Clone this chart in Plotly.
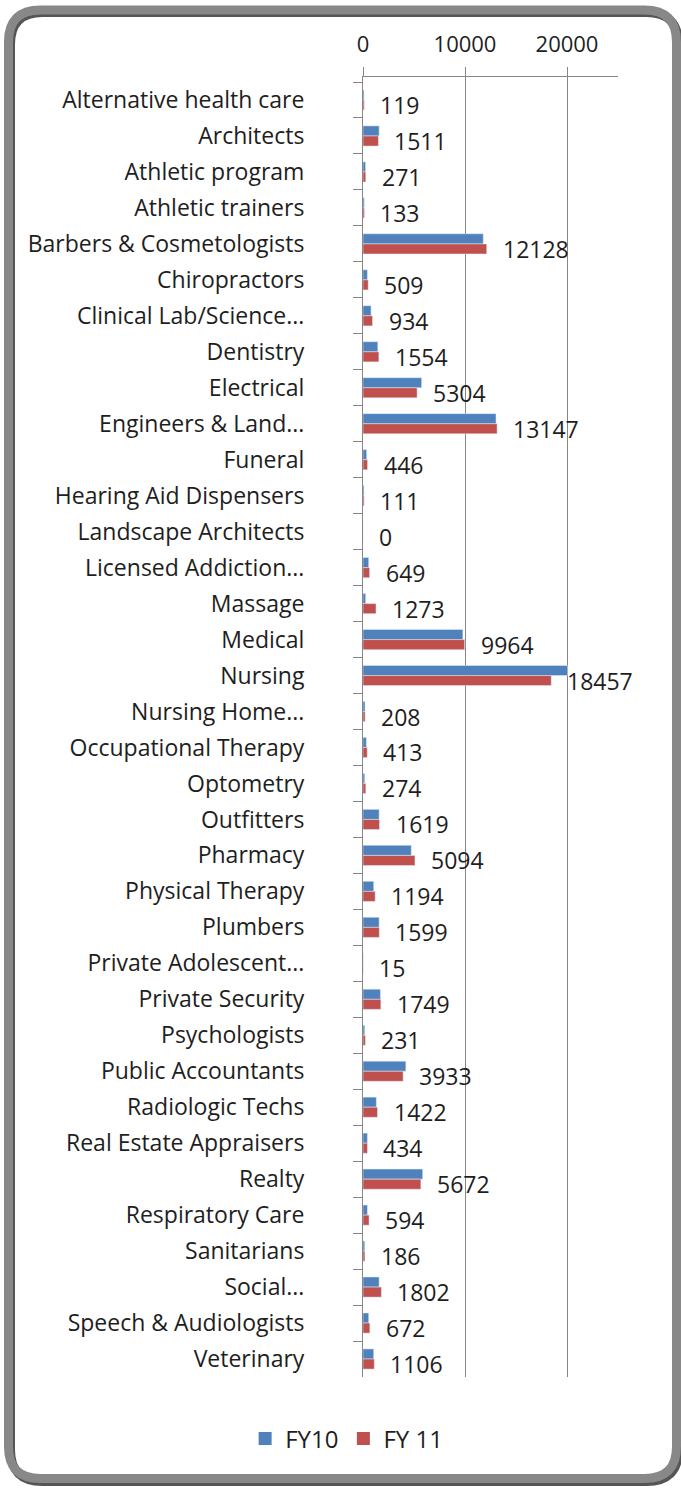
import plotly.graph_objects as go

categories = [
    "Alternative health care", "Architects", "Athletic program", "Athletic trainers",
    "Barbers & Cosmetologists", "Chiropractors", "Clinical Lab/Science...", "Dentistry",
    "Electrical", "Engineers & Land...", "Funeral", "Hearing Aid Dispensers",
    "Landscape Architects", "Licensed Addiction...", "Massage", "Medical", "Nursing",
    "Nursing Home...", "Occupational Therapy", "Optometry", "Outfitters", "Pharmacy",
    "Physical Therapy", "Plumbers", "Private Adolescent...", "Private Security",
    "Psychologists", "Public Accountants", "Radiologic Techs", "Real Estate Appraisers",
    "Realty", "Respiratory Care", "Sanitarians", "Social...", "Speech & Audiologists",
    "Veterinary",
]

fy10 = [100, 1580, 250, 120, 11790, 430, 790, 1450, 5750, 13040, 360, 100, 0, 560,
        260, 9790, 20050, 200, 330, 170, 1580, 4730, 1050, 1580, 15, 1710, 170, 4200,
        1310, 430, 5850, 430, 170, 1580, 560, 1050]

fy11 = [119, 1511, 271, 133, 12128, 509, 934, 1554, 5304, 13147, 446, 111, 0, 649,
        1273, 9964, 18457, 208, 413, 274, 1619, 5094, 1194, 1599, 15, 1749, 231, 3933,
        1422, 434, 5672, 594, 186, 1802, 672, 1106]

x_ticks = [0, 10000, 20000]
series_names = ["FY10", "FY 11"]
series_colors = ["#4F81BD", "#C0504D"]

W, H = 681, 1488
ML, MR, MT, MB = 363, 63, 77, 111
PW, PH = W - ML - MR, H - MT - MB
FONT = "Open Sans"
GRID = "#868686"
TXT = "#1e1e1e"


def px(x):
    return (x - ML) / PW


def py(y):
    return (H - MB - y) / PH


def rounded(x0, y0, x1, y1, r):
    pts = [
        ("M", x0 + r, y0), ("L", x1 - r, y0), ("Q", x1, y0, x1, y0 + r),
        ("L", x1, y1 - r), ("Q", x1, y1, x1 - r, y1), ("L", x0 + r, y1),
        ("Q", x0, y1, x0, y1 - r), ("L", x0, y0 + r), ("Q", x0, y0, x0 + r, y0),
    ]
    s = ""
    for p in pts:
        if p[0] == "Q":
            s += f"Q{px(p[1]):.5f},{py(p[2]):.5f} {px(p[3]):.5f},{py(p[4]):.5f} "
        else:
            s += f"{p[0]}{px(p[1]):.5f},{py(p[2]):.5f} "
    return s + "Z"


fig = go.Figure()
for name, vals, col in zip(series_names, [fy10, fy11], series_colors):
    fig.add_trace(go.Bar(y=categories, x=vals, orientation="h", name=name,
                         marker=dict(color=col), showlegend=False))
# legend entries with larger square swatches
for name, col in zip(series_names, series_colors):
    fig.add_trace(go.Scatter(x=[None], y=[None], mode="markers", name=name,
                             marker=dict(symbol="square", size=13, color=col),
                             showlegend=True, hoverinfo="skip"))

for c, v in zip(categories, fy11):
    fig.add_annotation(x=v, y=c, xref="x", yref="y", text=str(v), showarrow=False,
                       xanchor="left", yanchor="middle", xshift=14, yshift=-5,
                       font=dict(family=FONT, size=23, color=TXT))

# frame with shadow
fig.add_shape(type="path", xref="paper", yref="paper",
              path=rounded(10.5, 12.5, 678.5, 1481.5, 32),
              line=dict(color="#555555", width=9), layer="below")
fig.add_shape(type="path", xref="paper", yref="paper",
              path=rounded(8.5, 10, 676.5, 1478.5, 32),
              line=dict(color="#888888", width=9), layer="below")

fig.update_layout(
    width=W, height=H,
    margin=dict(l=ML, r=MR, t=MT, b=MB, pad=0),
    paper_bgcolor="white", plot_bgcolor="white",
    barmode="group", bargap=0.44, bargroupgap=0,
    font=dict(family=FONT, size=23, color=TXT),
    showlegend=True,
    legend=dict(orientation="h", xref="container", yref="container",
                x=0.509, y=1 - 1439 / H, xanchor="center", yanchor="middle",
                font=dict(family=FONT, size=24, color=TXT),
                itemwidth=30, bgcolor="rgba(0,0,0,0)"),
    xaxis=dict(side="top", range=[0, 25000], tickvals=x_ticks,
               ticktext=[str(t) for t in x_ticks],
               showgrid=True, gridcolor=GRID, gridwidth=1, zeroline=False,
               showline=True, linecolor=GRID, linewidth=1,
               ticks="outside", ticklen=9, tickcolor=GRID,
               ticklabelstandoff=6,
               tickfont=dict(family=FONT, size=22, color=TXT), fixedrange=True),
    yaxis=dict(type="category", autorange="reversed", showgrid=False, zeroline=False,
               showline=True, linecolor=GRID, linewidth=1,
               ticks="outside", ticklen=9, tickcolor=GRID, tickson="boundaries",
               ticklabelstandoff=53,
               tickfont=dict(family=FONT, size=23, color=TXT), fixedrange=True),
)

fig.write_html("out.html", config={"displayModeBar": False},
               post_script="document.body.style.margin='0';document.body.style.overflow='hidden';")
